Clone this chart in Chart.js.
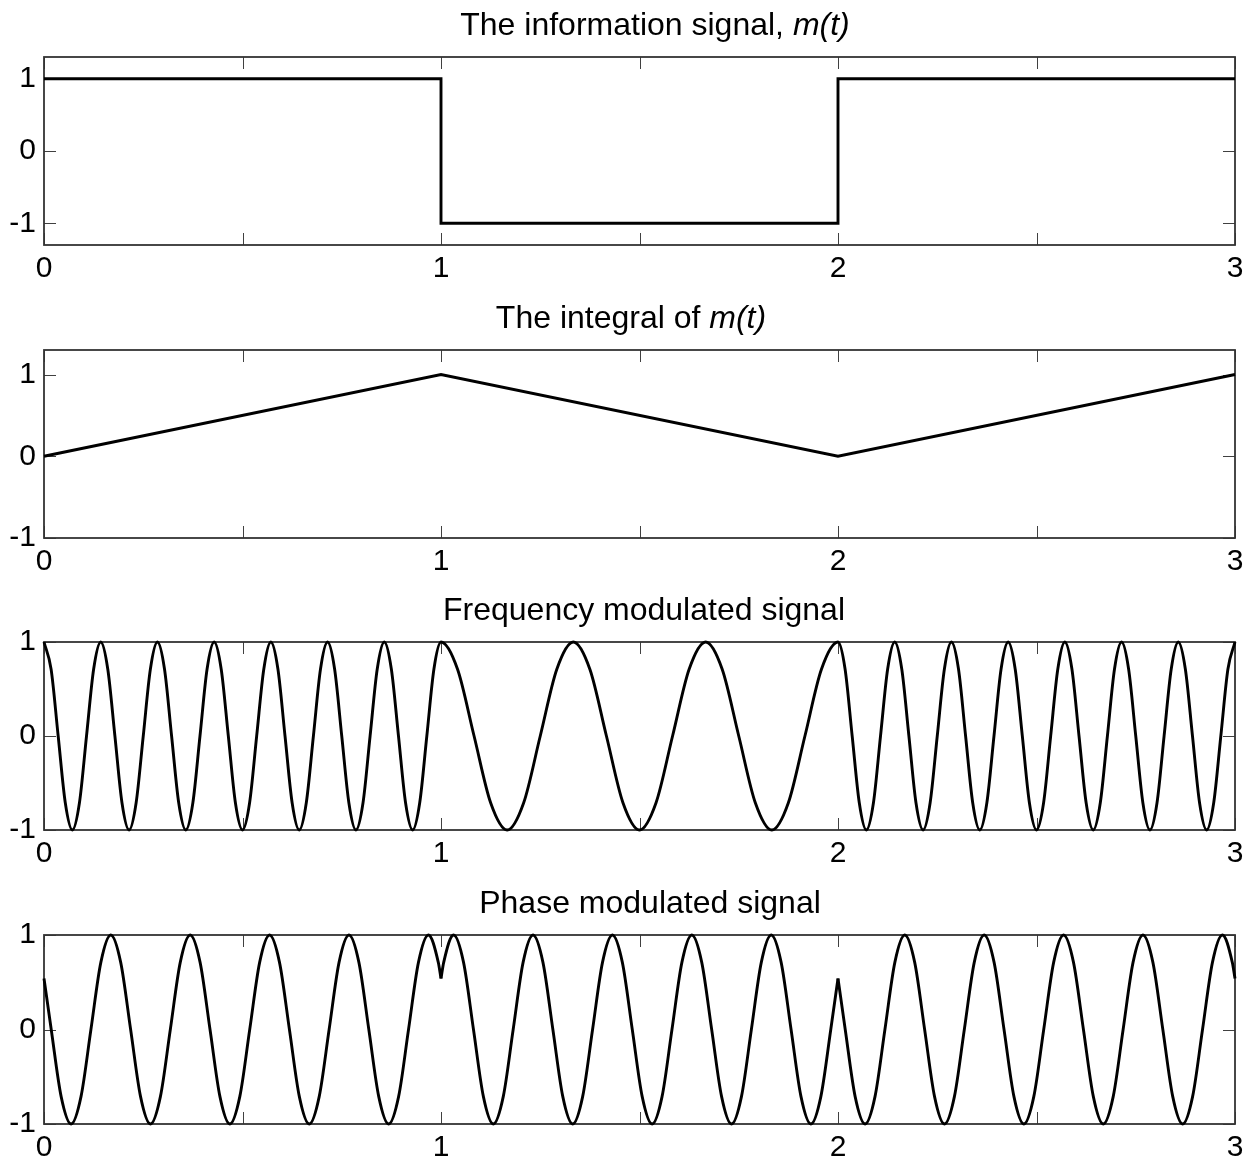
<!DOCTYPE html>
<html>
<head>
<meta charset="utf-8">
<script src="https://cdn.jsdelivr.net/npm/chart.js@4.4.1/dist/chart.umd.min.js"></script>
<style>
  html, body { margin: 0; padding: 0; background: #fff; }
  #fig { position: relative; width: 1253px; height: 1161px; overflow: hidden; background: #fff; }
  #fig canvas { position: absolute; left: 0; }
  .ttl { position: absolute; width: 800px; text-align: center; white-space: nowrap;
         font: 32px/32px "Liberation Sans", Arial, sans-serif; color: #000; }
  .ttl i { font-style: italic; }
</style>
</head>
<body>
<div id="fig">
  <canvas id="c1" width="1253" height="290" style="top:0px"></canvas>
  <canvas id="c2" width="1253" height="290" style="top:290px"></canvas>
  <canvas id="c3" width="1253" height="300" style="top:580px"></canvas>
  <canvas id="c4" width="1253" height="281" style="top:880px"></canvas>
  <div class="ttl" style="left:255px;top:8px">The information signal, <i>m(t)</i></div>
  <div class="ttl" style="left:231px;top:301px">The integral of <i>m(t)</i></div>
  <div class="ttl" style="left:244px;top:593px">Frequency modulated signal</div>
  <div class="ttl" style="left:250px;top:886px">Phase modulated signal</div>
</div>
<script>
// Axis ticks shared by all four panels
const xTickValues = [0, 0.5, 1, 1.5, 2, 2.5, 3];
const yTickValues = [-1, 0, 1];

// Message m(t): +1, -1, +1 over three unit intervals
const msgTimes  = [0, 1, 1, 2, 2, 3];
const msgValues = [1, 1, -1, -1, 1, 1];

// Running integral of m(t)
const intTimes  = [0, 1, 2, 3];
const intValues = [0, 1, 0, 1];

// FM waveform samples (peaks, crossings and mid-slope points)
const fmTimes = [
  0, 0.0179, 0.0357, 0.0536, 0.0714, 0.0893, 0.1071, 0.125,
  0.1429, 0.1607, 0.1786, 0.1964, 0.2143, 0.2321, 0.25, 0.2679,
  0.2857, 0.3036, 0.3214, 0.3393, 0.3571, 0.375, 0.3929, 0.4107,
  0.4286, 0.4464, 0.4643, 0.4821, 0.5, 0.5179, 0.5357, 0.5536,
  0.5714, 0.5893, 0.6071, 0.625, 0.6429, 0.6607, 0.6786, 0.6964,
  0.7143, 0.7321, 0.75, 0.7679, 0.7857, 0.8036, 0.8214, 0.8393,
  0.8571, 0.875, 0.8929, 0.9107, 0.9286, 0.9464, 0.9643, 0.9821,
  1, 1.0417, 1.0833, 1.125, 1.1667, 1.2083, 1.25, 1.2917,
  1.3333, 1.375, 1.4167, 1.4583, 1.5, 1.5417, 1.5833, 1.625,
  1.6667, 1.7083, 1.75, 1.7917, 1.8333, 1.875, 1.9167, 1.9583,
  2, 2.0179, 2.0357, 2.0536, 2.0714, 2.0893, 2.1071, 2.125,
  2.1429, 2.1607, 2.1786, 2.1964, 2.2143, 2.2321, 2.25, 2.2679,
  2.2857, 2.3036, 2.3214, 2.3393, 2.3571, 2.375, 2.3929, 2.4107,
  2.4286, 2.4464, 2.4643, 2.4821, 2.5, 2.5179, 2.5357, 2.5536,
  2.5714, 2.5893, 2.6071, 2.625, 2.6429, 2.6607, 2.6786, 2.6964,
  2.7143, 2.7321, 2.75, 2.7679, 2.7857, 2.8036, 2.8214, 2.8393,
  2.8571, 2.875, 2.8929, 2.9107, 2.9286, 2.9464, 2.9643, 2.9821,
  3
];
const fmValues = [
  1, 0.71, 0, -0.71, -1, -0.71, 0, 0.71,
  1, 0.71, 0, -0.71, -1, -0.71, 0, 0.71,
  1, 0.71, 0, -0.71, -1, -0.71, 0, 0.71,
  1, 0.71, 0, -0.71, -1, -0.71, 0, 0.71,
  1, 0.71, 0, -0.71, -1, -0.71, 0, 0.71,
  1, 0.71, 0, -0.71, -1, -0.71, 0, 0.71,
  1, 0.71, 0, -0.71, -1, -0.71, 0, 0.71,
  1, 0.71, 0, -0.71, -1, -0.71, 0, 0.71,
  1, 0.71, 0, -0.71, -1, -0.71, 0, 0.71,
  1, 0.71, 0, -0.71, -1, -0.71, 0, 0.71,
  1, 0.71, 0, -0.71, -1, -0.71, 0, 0.71,
  1, 0.71, 0, -0.71, -1, -0.71, 0, 0.71,
  1, 0.71, 0, -0.71, -1, -0.71, 0, 0.71,
  1, 0.71, 0, -0.71, -1, -0.71, 0, 0.71,
  1, 0.71, 0, -0.71, -1, -0.71, 0, 0.71,
  1, 0.71, 0, -0.71, -1, -0.71, 0, 0.71,
  1, 0.71, 0, -0.71, -1, -0.71, 0, 0.71,
  1
];

// PM waveform, one piece per message level (phase jumps at t = 1 and t = 2)
const pmTimes1 = [
  0,
  0.0182, 0.0432, 0.0682, 0.0932, 0.1182, 0.1432, 0.1682, 0.1932,
  0.2182, 0.2432, 0.2682, 0.2932, 0.3182, 0.3432, 0.3682, 0.3932,
  0.4182, 0.4432, 0.4682, 0.4932, 0.5182, 0.5432, 0.5682, 0.5932,
  0.6182, 0.6432, 0.6682, 0.6932, 0.7182, 0.7432, 0.7682, 0.7932,
  0.8182, 0.8432, 0.8682, 0.8932, 0.9182, 0.9432, 0.9682, 0.9932,
  1
];
const pmValues1 = [
  0.54,
  0, -0.71, -1, -0.71, 0, 0.71, 1, 0.71,
  0, -0.71, -1, -0.71, 0, 0.71, 1, 0.71,
  0, -0.71, -1, -0.71, 0, 0.71, 1, 0.71,
  0, -0.71, -1, -0.71, 0, 0.71, 1, 0.71,
  0, -0.71, -1, -0.71, 0, 0.71, 1, 0.71,
  0.54
];
const pmTimes2 = [
  1,
  1.0068, 1.0318, 1.0568, 1.0818, 1.1068, 1.1318, 1.1568, 1.1818,
  1.2068, 1.2318, 1.2568, 1.2818, 1.3068, 1.3318, 1.3568, 1.3818,
  1.4068, 1.4318, 1.4568, 1.4818, 1.5068, 1.5318, 1.5568, 1.5818,
  1.6068, 1.6318, 1.6568, 1.6818, 1.7068, 1.7318, 1.7568, 1.7818,
  1.8068, 1.8318, 1.8568, 1.8818, 1.9068, 1.9318, 1.9568, 1.9818,
  2
];
const pmValues2 = [
  0.54,
  0.71, 1, 0.71, 0, -0.71, -1, -0.71, 0,
  0.71, 1, 0.71, 0, -0.71, -1, -0.71, 0,
  0.71, 1, 0.71, 0, -0.71, -1, -0.71, 0,
  0.71, 1, 0.71, 0, -0.71, -1, -0.71, 0,
  0.71, 1, 0.71, 0, -0.71, -1, -0.71, 0,
  0.54
];
const pmTimes3 = [
  2,
  2.0182, 2.0432, 2.0682, 2.0932, 2.1182, 2.1432, 2.1682, 2.1932,
  2.2182, 2.2432, 2.2682, 2.2932, 2.3182, 2.3432, 2.3682, 2.3932,
  2.4182, 2.4432, 2.4682, 2.4932, 2.5182, 2.5432, 2.5682, 2.5932,
  2.6182, 2.6432, 2.6682, 2.6932, 2.7182, 2.7432, 2.7682, 2.7932,
  2.8182, 2.8432, 2.8682, 2.8932, 2.9182, 2.9432, 2.9682, 2.9932,
  3
];
const pmValues3 = [
  0.54,
  0, -0.71, -1, -0.71, 0, 0.71, 1, 0.71,
  0, -0.71, -1, -0.71, 0, 0.71, 1, 0.71,
  0, -0.71, -1, -0.71, 0, 0.71, 1, 0.71,
  0, -0.71, -1, -0.71, 0, 0.71, 1, 0.71,
  0, -0.71, -1, -0.71, 0, 0.71, 1, 0.71,
  0.54
];

const FONT = '"Liberation Sans", Arial, sans-serif';
Chart.defaults.font.family = FONT;
Chart.defaults.color = '#000';

function pairs(ts, vs) {
  return ts.map((t, i) => ({ x: t, y: vs[i] }));
}

function trace(ts, vs, smooth) {
  return {
    data: pairs(ts, vs),
    borderColor: '#000',
    borderWidth: 2.9,
    pointRadius: 0,
    fill: false,
    clip: 6,
    tension: 0,
    cubicInterpolationMode: smooth ? 'monotone' : 'default'
  };
}

// Box around the plotting area with inward tick marks on all four sides
const frame = {
  id: 'frame',
  beforeDatasetsDraw(chart) {
    const { ctx, chartArea: a, scales } = chart;
    const x = scales.x, y = scales.y;
    const L = 12;
    ctx.save();
    ctx.strokeStyle = '#404040';
    ctx.lineWidth = 1;
    ctx.beginPath();
    xTickValues.forEach(v => {
      const px = Math.round(x.getPixelForValue(v)) + 0.5;
      ctx.moveTo(px, a.bottom); ctx.lineTo(px, a.bottom - L);
      ctx.moveTo(px, a.top);    ctx.lineTo(px, a.top + L);
    });
    yTickValues.forEach(v => {
      const py = Math.round(y.getPixelForValue(v)) + 0.5;
      ctx.moveTo(a.left, py);  ctx.lineTo(a.left + L, py);
      ctx.moveTo(a.right, py); ctx.lineTo(a.right - L, py);
    });
    ctx.stroke();
    ctx.strokeStyle = '#333';
    ctx.lineWidth = 1.8;
    ctx.strokeRect(a.left, a.top, a.right - a.left, a.bottom - a.top);
    ctx.restore();
  }
};

function panel(id, yMin, yMax, padTop, axisH, datasets) {
  new Chart(document.getElementById(id), {
    type: 'line',
    data: { datasets },
    plugins: [frame],
    options: {
      responsive: false,
      animation: false,
      events: [],
      layout: { padding: { top: padTop, right: 18, left: 0, bottom: 0 } },
      plugins: { legend: { display: false }, tooltip: { enabled: false }, title: { display: false } },
      scales: {
        x: {
          type: 'linear', min: 0, max: 3,
          afterBuildTicks: s => { s.ticks = xTickValues.map(v => ({ value: v })); },
          afterFit: s => { s.height = axisH; },
          grid: { display: false, drawTicks: false },
          border: { display: false },
          ticks: {
            autoSkip: false, maxRotation: 0, padding: 6,
            font: { size: 30 }, color: '#000',
            callback: v => (Number.isInteger(v) ? String(v) : '')
          }
        },
        y: {
          type: 'linear', min: yMin, max: yMax,
          afterBuildTicks: s => { s.ticks = yTickValues.map(v => ({ value: v })); },
          afterFit: s => { s.width = 44; },
          grid: { display: false, drawTicks: false },
          border: { display: false },
          ticks: {
            padding: 8, font: { size: 30 }, color: '#000',
            callback: v => String(v)
          }
        }
      }
    }
  });
}

panel('c1', -1.3, 1.3, 57, 45, [trace(msgTimes, msgValues, false)]);
panel('c2', -1, 1.3, 60, 42, [trace(intTimes, intValues, false)]);
panel('c3', -1, 1, 62, 50, [trace(fmTimes, fmValues, true)]);
panel('c4', -1, 1, 55, 37, [
  trace(pmTimes1, pmValues1, true),
  trace(pmTimes2, pmValues2, true),
  trace(pmTimes3, pmValues3, true)
]);
</script>
</body>
</html>
